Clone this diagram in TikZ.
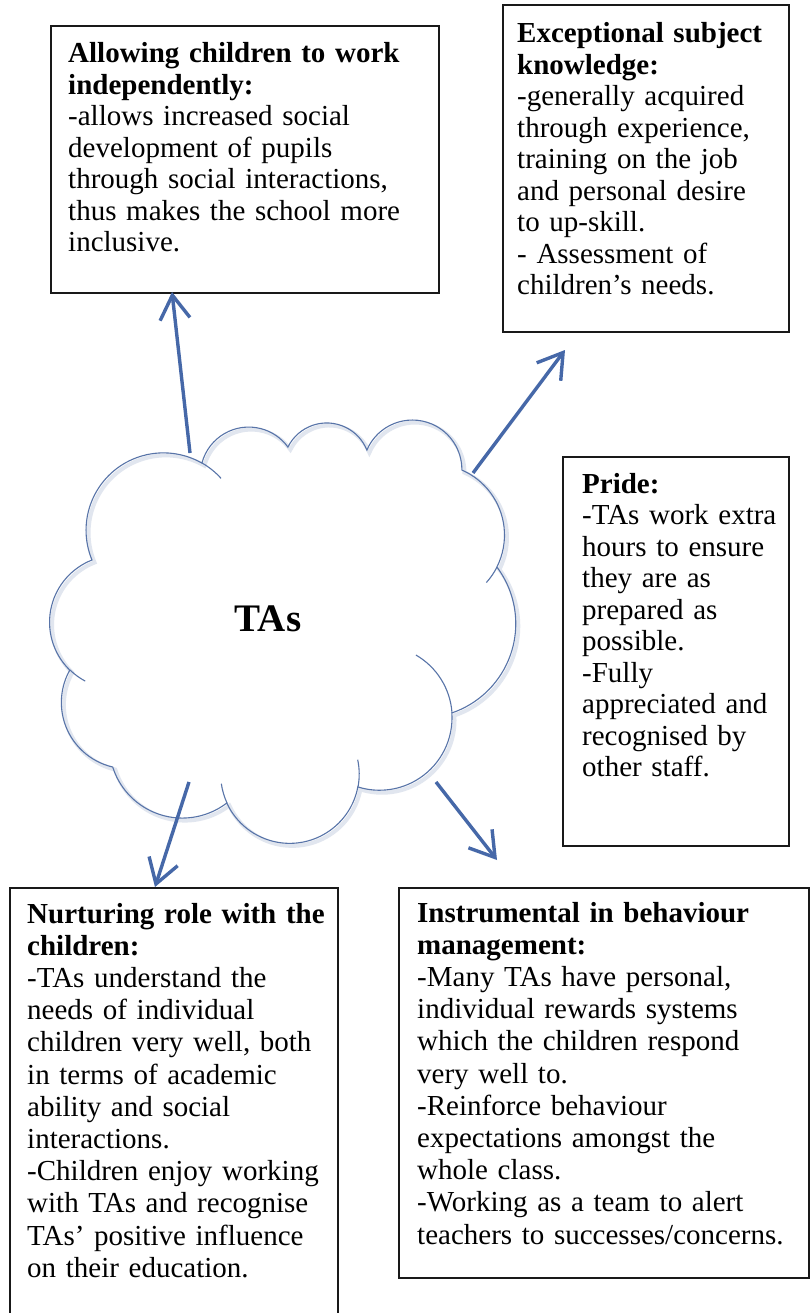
\documentclass[tikz,border=0pt]{standalone}
\usepackage{fontspec}
\setmainfont{Liberation Serif}
\usetikzlibrary{arrows.meta}
\definecolor{arrowblue}{RGB}{70,104,168}
\definecolor{cloudblue}{RGB}{88,116,168}
\begin{document}
\begin{tikzpicture}[x=1pt,y=-1pt,
	box/.style={draw=black!90, line width=2pt, anchor=north west, inner sep=0pt},
	txt/.style={anchor=base west, inner sep=0pt, text width=420pt, align=left, font=\fontsize{29pt}{31.5pt}\selectfont},
	lowtxt/.style={txt, font=\fontsize{29pt}{32.2pt}\selectfont},
	cloudline/.style={draw=cloudblue, line width=1.1pt},
	arr/.style={draw=arrowblue, line width=3.4pt, -{Straight Barb[length=24pt,width=30pt]}}]
			\useasboundingbox (0,0) rectangle (810,1313);
			\clip (0,0) rectangle (810,1313);
			\fill[white] (0,0) rectangle (810,1313);
			\node[box, minimum width=388pt, minimum height=267pt] (allow) at (50,25) {};
			\node[box, minimum width=286pt, minimum height=327pt] (subject) at (502,4) {};
			\node[box, minimum width=226pt, minimum height=389pt] (pride) at (562,456) {};
			\node[box, minimum width=328pt, minimum height=460pt] (nurture) at (9,887) {};
			\node[box, minimum width=410pt, minimum height=390pt] (behave) at (398,887) {};
			\node[txt] (allowtxt) at (68,63) {\textbf{Allowing children to work}\\\textbf{independently:}\\-allows increased social\\development of pupils\\through social interactions,\\thus makes the school more\\inclusive.};
			\node[txt] (subjecttxt) at (517,43) {\textbf{Exceptional subject}\\\textbf{knowledge:}\\-generally acquired\\through experience,\\training on the job\\and personal desire\\to up-skill.\\- Assessment of\\children’s needs.};
			\node[txt] (pridetxt) at (582,493) {\textbf{Pride:}\\-TAs work extra\\hours to ensure\\they are as\\prepared as\\possible.\\-Fully\\appreciated and\\recognised by\\other staff.};
			\node[lowtxt] (nurturetxt) at (27,923) {\textbf{Nurturing role with the}\\\textbf{children:}\\-TAs understand the\\needs of individual\\children very well, both\\in terms of academic\\ability and social\\interactions.\\-Children enjoy working\\with TAs and recognise\\TAs’ positive influence\\on their education.};
			\node[lowtxt] (behavetxt) at (417,922) {\textbf{Instrumental in behaviour}\\\textbf{management:}\\-Many TAs have personal,\\individual rewards systems\\which the children respond\\very well to.\\-Reinforce behaviour\\expectations amongst the\\whole class.\\-Working as a team to alert\\teachers to successes/concerns.};
			\draw[cloudline, preaction={draw=cloudblue!18, line width=4pt, transform canvas={xshift=2.5pt, yshift=-2.5pt}}]
				(92,560) arc[start angle=157.4, end angle=299.8, radius=77.4]
				arc[start angle=194.8, end angle=324.1, radius=48.4]
				arc[start angle=206.3, end angle=338, radius=43.3]
				arc[start angle=203.2, end angle=360.6, radius=49.5]
				arc[start angle=293.5, end angle=386.8, radius=70.9]
				arc[start angle=323.1, end angle=431.2, radius=94.3]
				arc[start angle=356.2, end angle=467.4, radius=72.5]
				arc[start angle=10.7, end angle=155.3, radius=69.3]
				arc[start angle=52.5, end angle=162.5, radius=73]
				arc[start angle=103, end angle=209.2, radius=66.3]
				arc[start angle=134.2, end angle=248.4, radius=66.8] -- cycle;
			\draw[cloudline] (202,463) arc[start angle=299.8, end angle=318, radius=77.4];
			\draw[cloudline] (497,567) arc[start angle=386.8, end angle=402, radius=70.9];
			\draw[cloudline] (452,713) arc[start angle=356.2, end angle=300, radius=72.5];
			\draw[cloudline] (358,787) arc[start angle=10.7, end angle=-12, radius=69.3];
			\draw[cloudline] (227,803) arc[start angle=155.3, end angle=172, radius=69.3];
			\draw[cloudline] (70,670) arc[start angle=134.2, end angle=118, radius=66.8];
			\node[font=\fontsize{39pt}{42pt}\selectfont\bfseries] (talabel) at (268,619) {TAs};
			\coordinate (fromA) at (190,453);
			\coordinate (fromB) at (473,473);
			\coordinate (fromN) at (189,782);
			\coordinate (fromI) at (436,782);
			\coordinate (tipA) at (172,292);
			\coordinate (tipB) at (565,350);
			\coordinate (tipN) at (155,887);
			\coordinate (tipI) at (497,860);
			\draw[arr] (fromA) -- (tipA);
			\draw[arr] (fromB) -- (tipB);
			\draw[arr] (fromN) -- (tipN);
			\draw[arr] (fromI) -- (tipI);
		\end{tikzpicture}
\end{document}
